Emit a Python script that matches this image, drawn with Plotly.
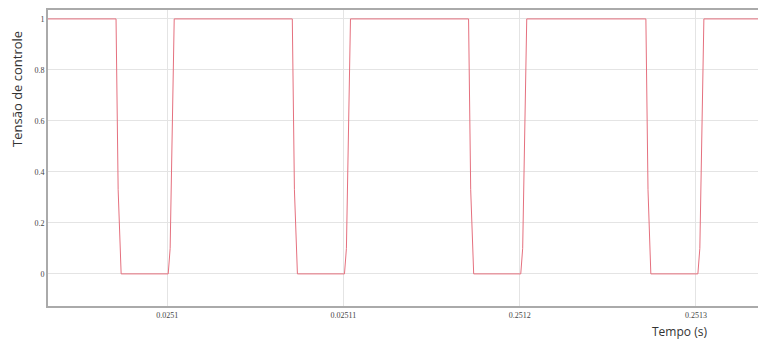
import plotly.graph_objects as go

# Control signal samples: time (s) and control voltage
tempo = [
    0.2509324,
    0.2509710, 0.2509722, 0.2509739, 0.2510006, 0.2510017, 0.2510040,
    0.2510710, 0.2510722, 0.2510739, 0.2511006, 0.2511017, 0.2511040,
    0.2511710, 0.2511722, 0.2511739, 0.2512006, 0.2512017, 0.2512040,
    0.2512716, 0.2512728, 0.2512744, 0.2513011, 0.2513022, 0.2513045,
    0.2513352,
]
tensao = [
    1.0,
    1.0, 0.33, 0.0, 0.0, 0.10, 1.0,
    1.0, 0.33, 0.0, 0.0, 0.10, 1.0,
    1.0, 0.33, 0.0, 0.0, 0.10, 1.0,
    1.0, 0.33, 0.0, 0.0, 0.10, 1.0,
    1.0,
]

x_ticks = [0.2510, 0.2511, 0.2512, 0.2513]
x_tick_labels = ["0.0251", "0.02511", "0.2512", "0.2513"]
y_ticks = [0, 0.2, 0.4, 0.6, 0.8, 1]
y_tick_labels = ["0", "0.2", "0.4", "0.6", "0.8", "1"]

fig = go.Figure()
fig.add_trace(go.Scatter(
    x=tempo, y=tensao, mode="lines",
    line=dict(color="#e5707e", width=1),
    showlegend=False,
))

fig.update_layout(
    width=758, height=341,
    margin=dict(l=48, r=0, t=10, b=35),
    paper_bgcolor="white", plot_bgcolor="white",
    font=dict(family="DejaVu Sans", color="#555"),
    xaxis=dict(
        range=[0.2509324, 0.2513352],
        tickvals=x_ticks, ticktext=x_tick_labels,
        tickfont=dict(size=8, family="Liberation Serif", color="#444"),
        showgrid=True, gridcolor="#e4e4e4", gridwidth=1,
        zeroline=False, showline=True, linecolor="#aaaaaa", linewidth=2,
        mirror=True, ticks="", ticklen=0,
    ),
    yaxis=dict(
        range=[-0.126, 1.035],
        tickvals=y_ticks, ticktext=y_tick_labels,
        tickfont=dict(size=8, family="Liberation Serif", color="#444"),
        showgrid=True, gridcolor="#e4e4e4", gridwidth=1,
        zeroline=False, showline=True, linecolor="#aaaaaa", linewidth=2,
        ticks="", ticklen=0,
    ),
    annotations=[
        dict(text="Tempo (s)", xref="paper", yref="paper",
             x=0.89, y=-0.085, showarrow=False,
             font=dict(size=12, family="Open Sans", color="#333"),
             xanchor="center", yanchor="middle"),
        dict(text="Tensão de controle", xref="paper", yref="paper",
             x=-0.043, y=0.735, showarrow=False, textangle=-90,
             font=dict(size=13, family="Open Sans", color="#333"),
             xanchor="center", yanchor="middle"),
    ],
)

fig.write_html("out.html")
